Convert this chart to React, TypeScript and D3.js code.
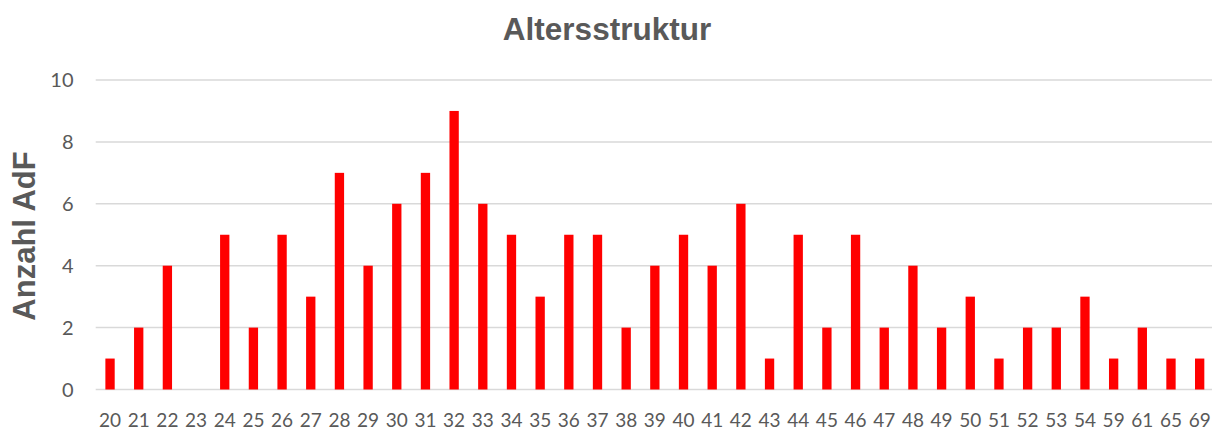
import React from "react";
import * as d3 from "d3";

const categories = ["20","21","22","23","24","25","26","27","28","29","30","31","32","33","34","35","36","37","38","39","40","41","42","43","44","45","46","47","48","49","50","51","52","53","54","59","61","65","69"];
const values = [1,2,4,0,5,2,5,3,7,4,6,7,9,6,5,3,5,5,2,4,5,4,6,1,5,2,5,2,4,2,3,1,2,2,3,1,2,1,1];
const yTicks = [0, 2, 4, 6, 8, 10];

const W = 1212, H = 430;
const left = 95.7, right = 1214, top = 80, bottom = 389.5;

export default function App() {
  const x = d3.scaleBand<string>().domain(categories).range([left, right]).paddingInner(0.675).paddingOuter(0.3375);
  const y = d3.scaleLinear().domain([0, 10]).range([bottom, top]);
  const tickFont = "Lato, 'Open Sans', sans-serif";
  return (
    <svg width={W} height={H} style={{ position: "absolute", left: 0, top: 0, background: "#fff" }}>
      <text x={607} y={40} textAnchor="middle" fontFamily="'Liberation Sans', Arial, sans-serif" fontWeight="bold" fontSize={31.5} fill="#595959">Altersstruktur</text>
      <text transform={`translate(35,236) rotate(-90)`} textAnchor="middle" fontFamily="'Liberation Sans', Arial, sans-serif" fontWeight="bold" fontSize={31} fill="#595959">Anzahl AdF</text>
      {yTicks.map((t) => (
        <g key={t}>
          <line x1={left} x2={right} y1={y(t)} y2={y(t)} stroke="#d9d9d9" strokeWidth={1.5} />
          <text x={73.5} y={y(t)} dy="0.36em" textAnchor="end" fontFamily={tickFont} fontSize={20} fill="#595959">{t}</text>
        </g>
      ))}
      {categories.map((c, i) => (
        <rect key={c} x={x(c)} y={y(values[i])} width={x.bandwidth()} height={y(0) - y(values[i])} fill="#ff0000" />
      ))}
      {categories.map((c) => (
        <text key={"l" + c} x={(x(c) as number) + x.bandwidth() / 2} y={426.5} textAnchor="middle" fontFamily={tickFont} fontSize={19} fill="#595959">{c}</text>
      ))}
    </svg>
  );
}
